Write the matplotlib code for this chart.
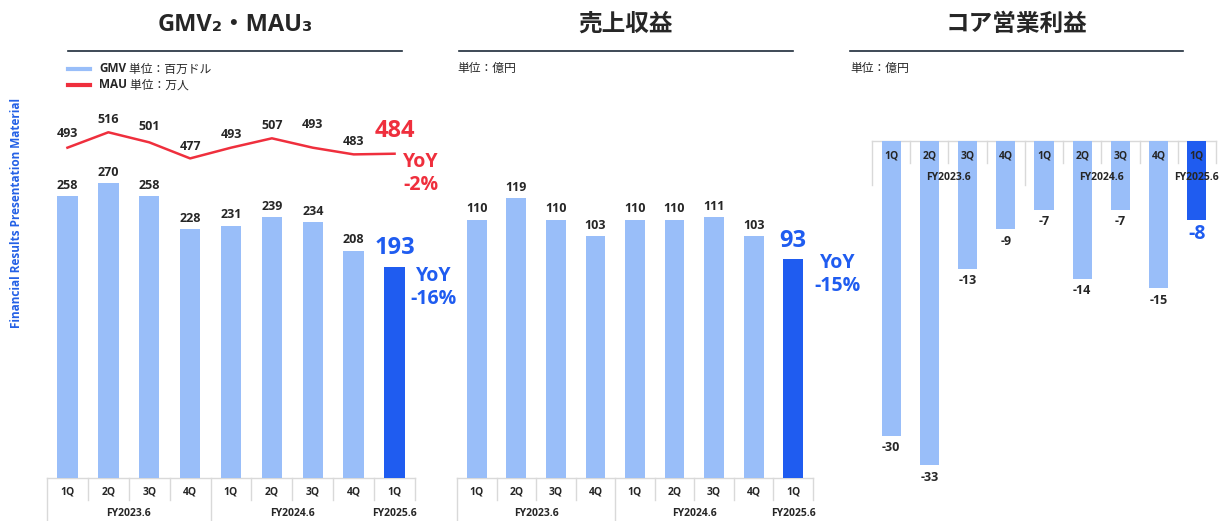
import matplotlib
matplotlib.use("Agg")
import matplotlib.pyplot as plt
import matplotlib.transforms as mtrans
from matplotlib.text import Annotation
import numpy as np

plt.rcParams['font.family'] = ['Open Sans', 'Noto Sans CJK JP', 'DejaVu Sans']

# data
quarters = ["1Q", "2Q", "3Q", "4Q", "1Q", "2Q", "3Q", "4Q", "1Q"]
fy_groups = [("FY2023.6", 4), ("FY2024.6", 4), ("FY2025.6", 1)]
gmv = [258, 270, 258, 228, 231, 239, 234, 208, 193]
mau = [493, 516, 501, 477, 493, 507, 493, 483, 484]
revenue = [110, 119, 110, 103, 110, 110, 111, 103, 93]
core_profit = [-30, -33, -13, -9, -7, -14, -7, -15, -8]
gmv_yoy = "-16%"
mau_yoy = "-2%"
revenue_yoy = "-15%"
# per-label lift of the MAU numbers above the line (px)
mau_label_lift = [14, 13, 16, 12, 13, 13, 23, 13]

LIGHT = "#99bef9"
DARK = "#1f5cf0"
RED = "#ef2f3d"
TXT = "#262626"
GRID = "#d9d9d9"
W, H = 1220, 521
LBL = 9

fig = plt.figure(figsize=(W / 100, H / 100), dpi=100)


def px_axes(left, top, right, bottom):
    ax = fig.add_axes([left / W, 1 - bottom / H, (right - left) / W, (bottom - top) / H])
    ax.set_axis_off()
    return ax


def category_axis(ax, y_top, q_h, fy_h, q_y, fy_y):
    # two-level category axis: quarters on top, fiscal years below
    n = len(quarters)
    tr = mtrans.blended_transform_factory(ax.transData, mtrans.IdentityTransform())
    ax.plot([-0.5, n - 0.5], [H - y_top] * 2, color=GRID, lw=1, transform=tr, clip_on=False, zorder=1)
    group_edges = [-0.5]
    for _, cnt in fy_groups[:-1]:
        group_edges.append(group_edges[-1] + cnt)
    for b in np.arange(-0.5, n, 1.0):
        bottom = y_top + (fy_h if b in group_edges[:2] else q_h)
        ax.plot([b, b], [H - y_top, H - bottom], color=GRID, lw=1, transform=tr, clip_on=False, zorder=1)
    for i, q in enumerate(quarters):
        ax.text(i, H - q_y, q, transform=tr, ha="center", va="center", fontsize=7.5,
                fontweight="bold", color=TXT, zorder=5)
    start = 0
    for name, cnt in fy_groups:
        ax.text(start + (cnt - 1) / 2, H - fy_y, name, transform=tr, ha="center", va="center",
                fontsize=7.5, fontweight="bold", color=TXT, zorder=5)
        start += cnt


def title(x0, x1, text):
    fig.text((x0 + x1) / 2 / W, 1 - 25 / H, text, ha="center", va="center", fontsize=17,
             fontweight="bold", color=TXT)
    fig.add_artist(plt.Line2D([x0 / W, x1 / W], [1 - 51 / H] * 2, color="#1e2b3a", lw=1.2))


def bar_labels(ax, values, dy, va):
    for i, v in enumerate(values[:-1]):
        ax.annotate(str(v), (i, v), xytext=(0, dy), textcoords="offset points", ha="center",
                    va=va, fontsize=LBL, fontweight="bold", color=TXT)


x = np.arange(len(quarters))
colors = [LIGHT] * (len(quarters) - 1) + [DARK]

# --- GMV / MAU ---
ax1 = px_axes(47, 100, 415, 478)
ax1.set_xlim(-0.5, 8.5)
ax1.set_ylim(0, 378 / 1.093)
ax1.bar(x, gmv, width=0.5, color=colors, zorder=2)
bar_labels(ax1, gmv, 3, "bottom")
ax1.annotate(str(gmv[-1]), (x[-1], gmv[-1]), xytext=(0, 5), textcoords="offset points",
             ha="center", va="bottom", fontsize=17, fontweight="bold", color=DARK)
ax1.annotate(f"YoY\n{gmv_yoy}", (x[-1], gmv[-1]), xytext=(28, 1), textcoords="offset points",
             ha="center", va="top", fontsize=14, fontweight="bold", color=DARK, linespacing=1.25)

ax1b = ax1.twinx()
ax1b.set_axis_off()
ax1b.set_ylim(0, 378 / 0.67)
ax1b.plot(x, mau, color=RED, lw=1.8, zorder=3)
for i, v in enumerate(mau[:-1]):
    ax1b.annotate(str(v), (i, v), xytext=(0, mau_label_lift[i] * 0.72), textcoords="offset points",
                  ha="center", va="center", fontsize=LBL, fontweight="bold", color=TXT)
ax1b.annotate(str(mau[-1]), (x[-1], mau[-1]), xytext=(0, 16), textcoords="offset points",
              ha="center", va="center", fontsize=17, fontweight="bold", color=RED)
ax1b.annotate(f"YoY\n{mau_yoy}", (x[-1], mau[-1]), xytext=(19, 1), textcoords="offset points",
              ha="center", va="top", fontsize=14, fontweight="bold", color=RED, linespacing=1.2)
category_axis(ax1, 478, 22, 43, 492, 514)
title(68, 402, "GMV₂・MAU₃")

# legend
for y, c, name, unit in [(69, LIGHT, "GMV", " 単位：百万ドル"), (85, RED, "MAU", " 単位：万人")]:
    fig.add_artist(plt.Line2D([68 / W, 90 / W], [1 - y / H] * 2, color=c, lw=3))
    t = fig.text(99 / W, 1 - y / H, name, ha="left", va="center", fontsize=8.5,
                 fontweight="bold", color=TXT)
    fig.add_artist(Annotation(unit, xy=(1, 0.5), xycoords=t, va="center", ha="left",
                              fontsize=8.5, color=TXT))

# --- revenue ---
ax2 = px_axes(457, 100, 813, 478)
ax2.set_xlim(-0.5, 8.5)
ax2.set_ylim(0, 378 / 2.35)
ax2.bar(x, revenue, width=0.5, color=colors, zorder=2)
bar_labels(ax2, revenue, 3, "bottom")
ax2.annotate(str(revenue[-1]), (x[-1], revenue[-1]), xytext=(0, 5), textcoords="offset points",
             ha="center", va="bottom", fontsize=17, fontweight="bold", color=DARK)
ax2.annotate(f"YoY\n{revenue_yoy}", (x[-1], revenue[-1]), xytext=(32, 5), textcoords="offset points",
             ha="center", va="top", fontsize=14, fontweight="bold", color=DARK, linespacing=1.2)
category_axis(ax2, 478, 22, 43, 492, 514)
title(459, 793, "売上収益")
fig.text(457 / W, 1 - 68 / H, "単位：億円", fontsize=8.5, color=TXT, ha="left", va="center")

# --- core operating profit ---
ax3 = px_axes(872, 141, 1216, 480)
ax3.set_xlim(-0.5, 8.5)
ax3.set_ylim(-339 / 9.83, 0)
ax3.bar(x, core_profit, width=0.5, color=colors, zorder=2)
bar_labels(ax3, core_profit, -4, "top")
ax3.annotate(str(core_profit[-1]), (x[-1], core_profit[-1]), xytext=(0, -3), textcoords="offset points",
             ha="center", va="top", fontsize=14, fontweight="bold", color=DARK)
category_axis(ax3, 141, 22, 44, 156, 178)
title(850, 1183, "コア営業利益")
fig.text(850 / W, 1 - 68 / H, "単位：億円", fontsize=8.5, color=TXT, ha="left", va="center")

fig.text(17 / W, 1 - 213 / H, "Financial Results Presentation Material", rotation=90,
         ha="center", va="center", fontsize=8.5, fontweight="bold", color="#2360e6")

fig.savefig("out.png", dpi=100)
